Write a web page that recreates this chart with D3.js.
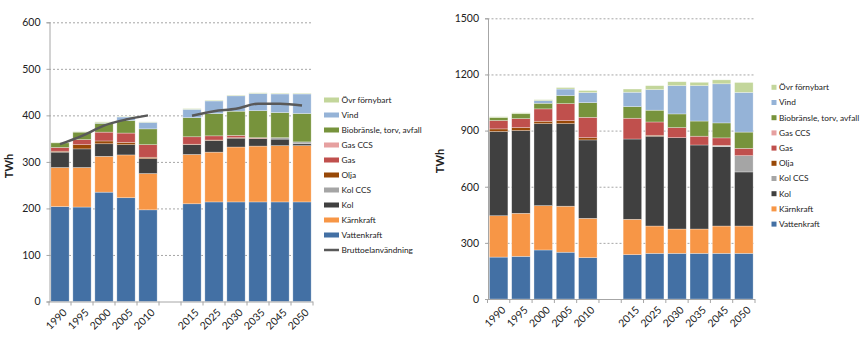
<!DOCTYPE html>
<html>
<head>
<meta charset="utf-8">
<script src="https://cdn.jsdelivr.net/npm/d3@7"></script>
<style>
  body { margin: 0; background: #fff; }
  svg text { font-family: Lato, "Open Sans", sans-serif; fill: #222; }
</style>
</head>
<body>
<script>
var w = 865;
var h = 349;

// categories ("" is the empty slot between history and scenario)
var years = ["1990", "1995", "2000", "2005", "2010", "", "2015", "2025", "2030", "2035", "2045", "2050"];

var keys = ["Vattenkraft", "Kärnkraft", "Kol", "Kol CCS", "Olja", "Gas", "Gas CCS", "Biobränsle, torv, avfall", "Vind", "Övr förnybart"];
var colors = ["#4370a4", "#f79646", "#404040", "#a5a5a5", "#984807", "#c0504d", "#e6a0a0", "#77933c", "#95b3d7", "#c3d69b"];

// left chart, TWh
var leftVatten = [204, 203, 235, 223, 197, 0, 210, 214, 214, 214, 214, 214];
var leftKarn   = [84, 85, 77, 92, 78, 0, 106, 107, 118, 120, 121, 121];
var leftKol    = [33, 40, 27, 22, 32, 0, 21, 25, 19, 16, 14, 4];
var leftKolCCS = [0, 0, 0, 0, 0, 0, 0, 0, 0, 0, 3, 4];
var leftOlja   = [2, 9, 6, 5, 3, 0, 1, 1, 1, 0.5, 0, 0];
var leftGas    = [8, 11, 19, 20, 27, 0, 16, 9, 5, 1.5, 0, 0];
var leftGasCCS = [0, 0, 0, 0, 0, 0, 0, 0, 0, 0, 0, 0];
var leftBio    = [10, 16, 19, 27, 34, 0, 41, 48, 52, 58, 54, 61];
var leftVind   = [0, 0, 1, 7.5, 14, 0, 18, 27, 33, 37, 40, 42];
var leftOvr    = [1, 1, 2, 1, 1, 0, 1.5, 1.5, 1.5, 1.5, 1.5, 1.5];
var leftBrutto = [338, 356, 378, 391, 400, null, 399, 409, 414, 425, 425, 421];

// right chart, TWh
var rightVatten = [224, 228, 262, 250, 221, 0, 237, 244, 244, 244, 244, 244];
var rightKarn   = [221, 230, 237, 246, 210, 0, 189, 146, 130, 130, 146, 146];
var rightKol    = [450, 442, 438, 441, 419, 0, 429, 480, 488, 449, 424, 289];
var rightKolCCS = [0, 0, 0, 0, 0, 0, 0, 0, 0, 0, 4, 87];
var rightOlja   = [14, 16, 13, 16, 12, 0, 0, 5, 0, 0, 3, 0];
var rightGas    = [45, 48, 66, 91, 109, 0, 111, 71, 54, 47, 40, 39];
var rightGasCCS = [0, 0, 0, 0, 0, 0, 0, 0, 0, 0, 0, 0];
var rightBio    = [16, 26, 30, 43, 78, 0, 62, 63, 73, 81, 80, 87];
var rightVind   = [0, 0, 14, 35, 54, 0, 77, 110, 151, 189, 209, 212];
var rightOvr    = [4, 5, 5, 8, 11, 0, 17, 21, 21, 18, 21, 53];

var leftTicks = [0, 100, 200, 300, 400, 500, 600];
var rightTicks = [0, 300, 600, 900, 1200, 1500];

function makeRows(series) {
  return years.map(function(y, i) {
    var row = {year: y};
    keys.forEach(function(k, j) { row[k] = series[j][i]; });
    return row;
  });
}

var svg = d3.select("body")
            .append("svg")
              .attr("width", w)
              .attr("height", h);

function drawChart(opt) {
  var x = d3.scaleBand()
            .domain(years)
            .range([opt.x0, opt.x1])
            .paddingInner(0.17)
            .paddingOuter(0.085);
  var y = d3.scaleLinear()
            .domain([0, opt.max])
            .range([opt.y0, opt.y1]);

  var g = svg.append("g");

  // dashed gridlines
  g.selectAll(".grid")
    .data(opt.ticks.slice(1))
    .enter()
    .append("line")
      .attr("x1", opt.x0).attr("x2", opt.x1)
      .attr("y1", function(d) { return y(d) + 0.5; })
      .attr("y2", function(d) { return y(d) + 0.5; })
      .attr("stroke", "#a6a6a6")
      .attr("stroke-dasharray", "2,2");

  var stacked = d3.stack().keys(keys)(makeRows(opt.series));

  g.selectAll(".layer")
    .data(stacked)
    .enter()
    .append("g")
      .attr("fill", function(d, i) { return colors[i]; })
    .selectAll("rect")
    .data(function(d) { return d; })
    .enter()
    .append("rect")
      .attr("x", function(d) { return x(d.data.year); })
      .attr("width", x.bandwidth())
      .attr("y", function(d) { return y(d[1]); })
      .attr("height", function(d) { return Math.max(0, y(d[0]) - y(d[1])); })
      .attr("stroke", "#fff")
      .attr("stroke-opacity", 0.5)
      .attr("stroke-width", 0.6);

  if (opt.line) {
    var line = d3.line()
                 .defined(function(d) { return d != null; })
                 .x(function(d, i) { return x(years[i]) + x.bandwidth() / 2; })
                 .y(function(d) { return y(d); })
                 .curve(d3.curveMonotoneX);
    g.append("path")
      .attr("d", line(opt.line))
      .attr("fill", "none")
      .attr("stroke", "#595959")
      .attr("stroke-width", 2.5);
  }

  // y axis
  var yAxis = g.append("g")
    .attr("transform", "translate(" + (opt.x0 + 0.5) + ",0)")
    .call(d3.axisLeft(y).tickValues(opt.ticks).tickFormat(d3.format("d")).tickSize(3).tickPadding(6));
  yAxis.select(".domain").attr("stroke", "#a6a6a6");
  yAxis.selectAll(".tick line").attr("stroke", "#a6a6a6");
  yAxis.selectAll(".tick text").style("font-size", "10.5px").attr("fill", "#222");

  // x axis, ticks at the band boundaries
  var bx = d3.range(years.length + 1).map(function(i) { return opt.x0 + i * x.step(); });
  g.append("line")
    .attr("x1", opt.x0).attr("x2", opt.x1)
    .attr("y1", opt.y0 + 0.5).attr("y2", opt.y0 + 0.5)
    .attr("stroke", "#a6a6a6");
  g.selectAll(".xtick")
    .data(bx)
    .enter()
    .append("line")
      .attr("x1", function(d) { return d; }).attr("x2", function(d) { return d; })
      .attr("y1", opt.y0).attr("y2", opt.y0 + 4)
      .attr("stroke", "#a6a6a6");
  g.selectAll(".xlabel")
    .data(years)
    .enter()
    .append("text")
      .attr("transform", function(d) {
        return "translate(" + (x(d) + x.bandwidth() / 2 + 5) + "," + (opt.y0 + 9) + ") rotate(-45)";
      })
      .attr("text-anchor", "end")
      .attr("dy", "0.35em")
      .style("font-size", "10.5px")
      .text(function(d) { return d; });

  g.append("text")
    .attr("transform", "translate(" + opt.titleX + "," + opt.titleY + ") rotate(-90)")
    .attr("text-anchor", "middle")
    .style("font-size", "11px")
    .style("font-weight", "bold")
    .text("TWh");

  // legend, top entry is the top of the stack
  var items = keys.map(function(k, i) { return {name: k, color: colors[i]}; }).reverse();
  if (opt.line) items.push({name: "Bruttoelanvändning", line: true});
  var leg = g.selectAll(".leg")
    .data(items)
    .enter()
    .append("g")
      .attr("transform", function(d, i) { return "translate(" + opt.legX + "," + (opt.legY + i * opt.legStep) + ")"; });
  leg.filter(function(d) { return !d.line; })
    .append("rect")
      .attr("x", 0).attr("y", -2.5)
      .attr("width", opt.swatchW).attr("height", 5)
      .attr("fill", function(d) { return d.color; });
  leg.filter(function(d) { return d.line; })
    .append("line")
      .attr("x1", 0).attr("x2", opt.swatchW)
      .attr("stroke", "#595959")
      .attr("stroke-width", 2.5);
  leg.append("text")
    .attr("x", opt.swatchW + 2.5)
    .attr("dy", "0.35em")
    .style("font-size", "8.3px")
    .text(function(d) { return d.name; });
}

drawChart({
  x0: 49, x1: 313, y0: 301.5, y1: 22.3, max: 600, ticks: leftTicks,
  series: [leftVatten, leftKarn, leftKol, leftKolCCS, leftOlja, leftGas, leftGasCCS, leftBio, leftVind, leftOvr],
  line: leftBrutto,
  titleX: 13, titleY: 166,
  legX: 324, legY: 100, legStep: 15, swatchW: 15
});

drawChart({
  x0: 487.5, x1: 755, y0: 299, y1: 18.3, max: 1500, ticks: rightTicks,
  series: [rightVatten, rightKarn, rightKol, rightKolCCS, rightOlja, rightGas, rightGasCCS, rightBio, rightVind, rightOvr],
  line: null,
  titleX: 444, titleY: 161,
  legX: 771.5, legY: 87.3, legStep: 15.2, swatchW: 5
});
</script>
</body>
</html>
